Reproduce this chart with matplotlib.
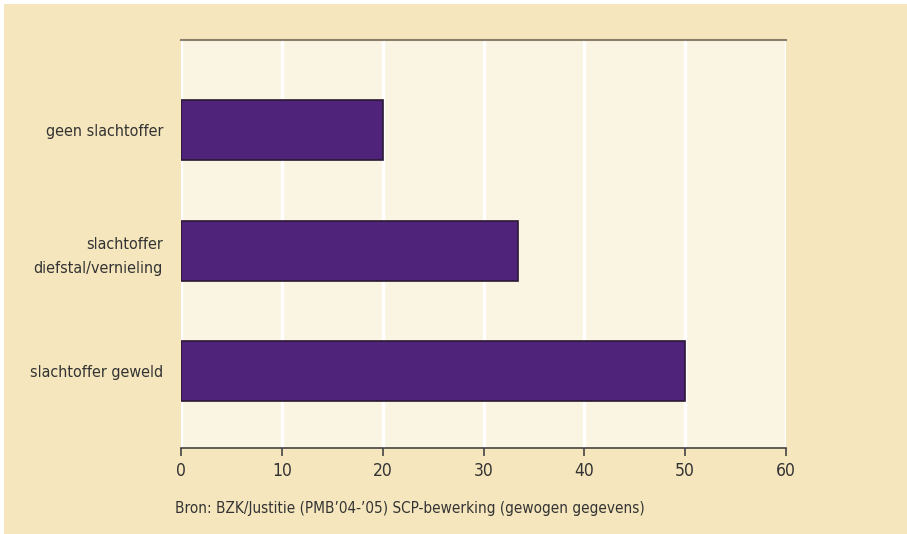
import matplotlib
matplotlib.use("Agg")
import matplotlib.pyplot as plt
from matplotlib.patches import Rectangle

categories = ["slachtoffer geweld", "slachtoffer\ndiefstal/vernieling", "geen slachtoffer"]
values = [50.0, 33.4, 20.0]
xticks = [0, 10, 20, 30, 40, 50, 60]
source = "Bron: BZK/Justitie (PMB\u201904-\u201905) SCP-bewerking (gewogen gegevens)"

plt.rcParams['font.family'] = ['DejaVu Sans']
plt.rcParams['font.stretch'] = 'condensed'

outer = '#F5E6BD'
inner = '#FAF4E2'
bar_col = '#4F2379'
txt = '#333333'

fig = plt.figure(figsize=(9.07, 5.34), dpi=100, facecolor='white')
# beige panel, thin white margin on top and left only
fig.patches.append(Rectangle((4/907, 0), 1, 1 - 4/534, transform=fig.transFigure,
                             facecolor=outer, edgecolor='none', zorder=-10))
ax = fig.add_axes([181/907, 1 - 448/534, (786 - 181)/907, (448 - 40)/534])
ax.set_facecolor(inner)

pos = list(range(len(categories)))
ax.barh(pos, values, height=0.5, color=bar_col, edgecolor='#2a1a33', linewidth=1.2, zorder=3)

ax.set_xlim(0, 60)
ax.set_ylim(-0.64, 2.75)
ax.set_xticks(xticks)
ax.set_xticklabels([str(t) for t in xticks], fontsize=12.5, color=txt)
ax.set_yticks(pos)
ax.set_yticklabels(categories, fontsize=11.5, color=txt, linespacing=1.75)
ax.tick_params(axis='y', length=0, pad=13)
ax.tick_params(axis='x', length=6, width=1.2, color='#444444', pad=4, direction='out')
ax.grid(axis='x', color='white', linewidth=2.5, zorder=0)
ax.set_axisbelow(True)

for s in ['left', 'right']:
    ax.spines[s].set_visible(False)
ax.spines['top'].set_color('#8a7f68')
ax.spines['top'].set_linewidth(1.5)
ax.spines['bottom'].set_color('#444444')
ax.spines['bottom'].set_linewidth(1.2)

fig.text(175/907, 1 - 508/534, source, fontsize=11, color=txt, va='center', ha='left')

fig.savefig('out.png', dpi=100, facecolor=fig.get_facecolor())
